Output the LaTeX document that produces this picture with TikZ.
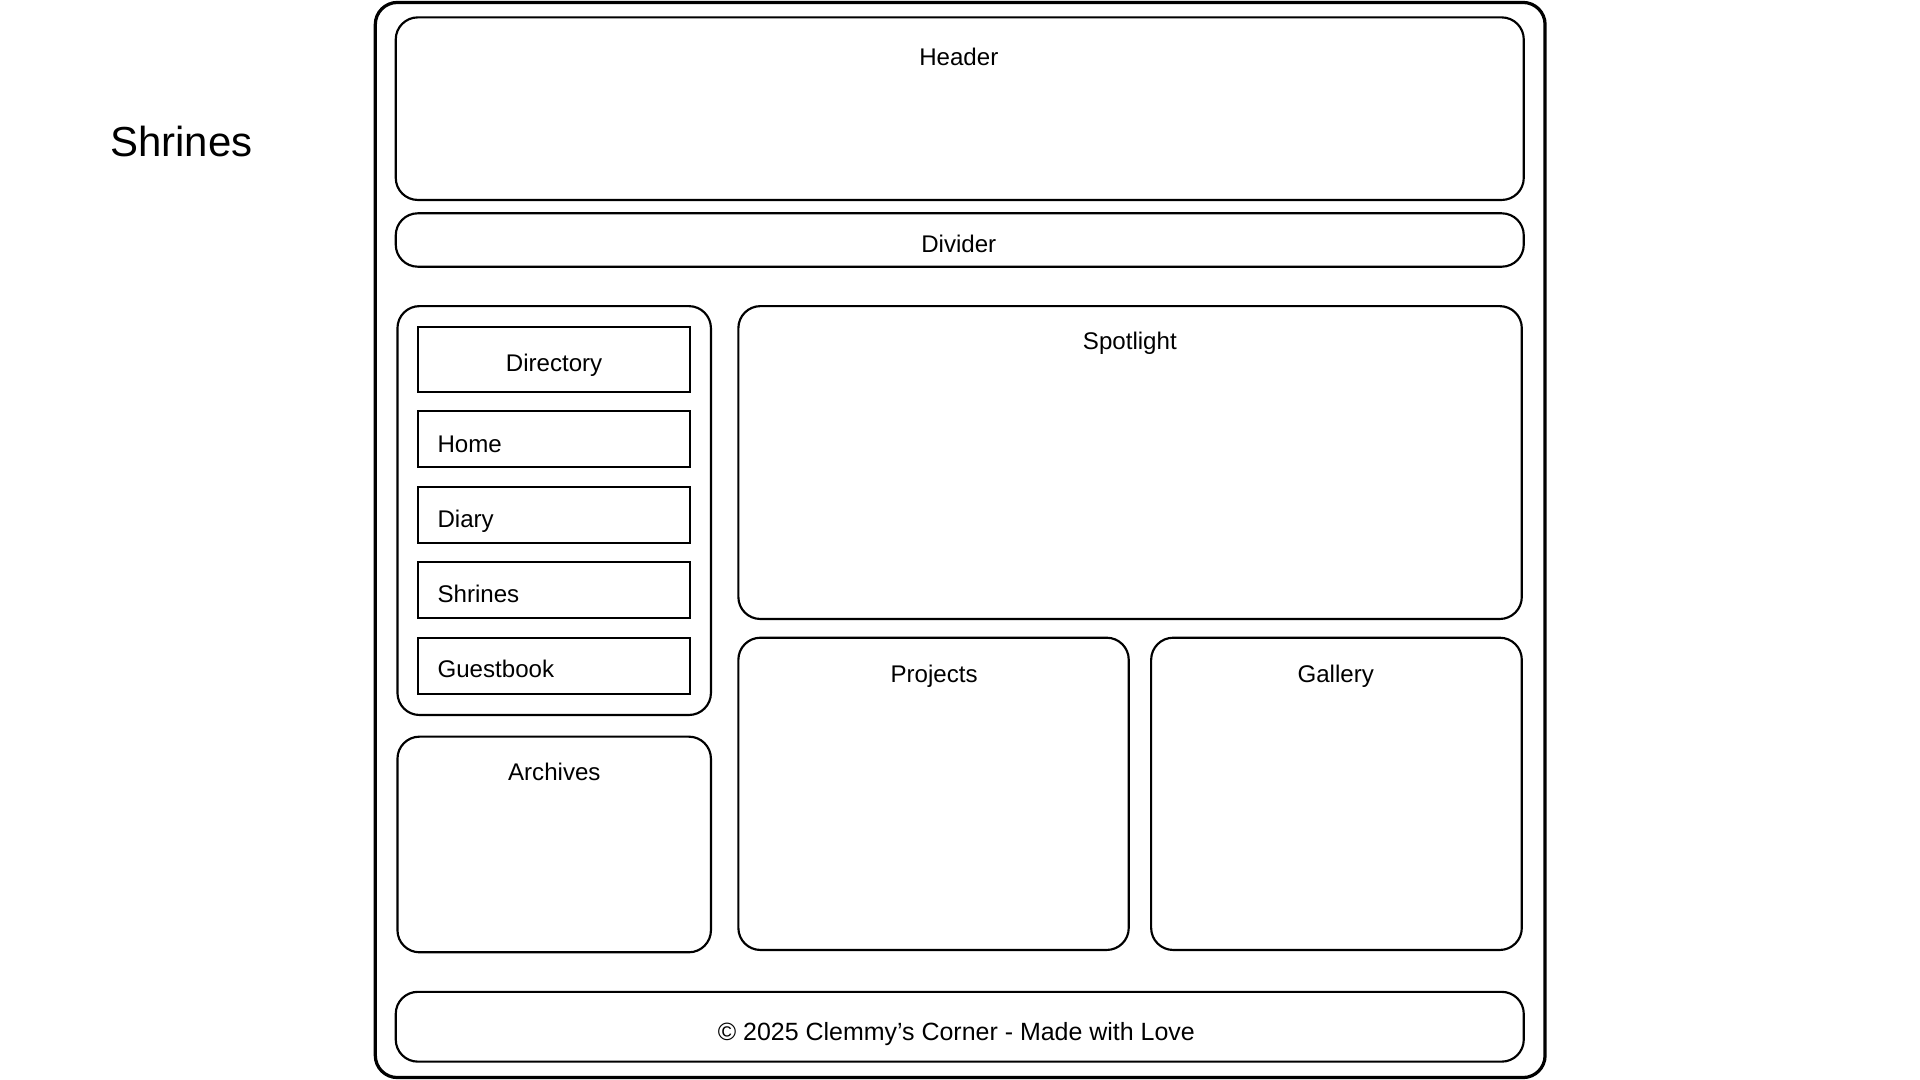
\documentclass[tikz,border=0pt]{standalone}
\usepackage{fontspec}
\setmainfont{Liberation Sans}
\begin{document}
\begin{tikzpicture}[x=0.02cm,y=-0.02cm,
  outerbox/.style={draw=black,line width=1.5pt,rounded corners=0.36cm},
  panel/.style={draw=black,line width=1pt,rounded corners=0.36cm},
  navbox/.style={draw=black,line width=1pt},
  lbl/.style={inner sep=0pt,anchor=base,font=\fontsize{11.2pt}{13pt}\selectfont},
  navlbl/.style={inner sep=0pt,anchor=base west,font=\fontsize{11.2pt}{13pt}\selectfont},
  titlelbl/.style={inner sep=0pt,anchor=base west,font=\fontsize{19.5pt}{23pt}\selectfont}]
\useasboundingbox[fill=white] (0,0) rectangle (1568,882);
% frames
\draw[outerbox] (306.5,2) rectangle (1261.8,880);
\draw[panel] (323.2,14.2) rectangle (1244.4,163.3);
\draw[panel] (323.2,174.2) rectangle (1244.4,217.8);
\draw[panel] (324.6,250) rectangle (580.6,583.9);
\draw[navbox] (341.6,266.8) rectangle (563.5,319.8);
\draw[navbox] (341.6,335.7) rectangle (563.5,381.6);
\draw[navbox] (341.6,397.4) rectangle (563.5,443.1);
\draw[navbox] (341.6,459.2) rectangle (563.5,504.9);
\draw[navbox] (341.6,520.7) rectangle (563.5,566.7);
\draw[panel] (324.6,601.6) rectangle (580.6,777.7);
\draw[panel] (603,250) rectangle (1242.8,505.5);
\draw[panel] (603,520.8) rectangle (921.8,775.8);
\draw[panel] (940.1,520.8) rectangle (1242.8,775.8);
\draw[panel] (323.2,810) rectangle (1244.4,867);
% labels
\node[titlelbl] (title) at (89.6,127.4) {Shrines};
\node[lbl] (header) at (783,53.9) {Header};
\node[lbl] (divider) at (783,206) {Divider};
\node[lbl] (directory) at (452.5,303.5) {Directory};
\node[navlbl] (home) at (357,369.4) {Home};
\node[navlbl] (diary) at (357,430.6) {Diary};
\node[navlbl] (shrines) at (357,492.2) {Shrines};
\node[navlbl] (guestbook) at (357,553) {Guestbook};
\node[lbl] (archives) at (452.7,637) {Archives};
\node[lbl] (spotlight) at (922.7,285.8) {Spotlight};
\node[lbl] (projects) at (762.8,557.2) {Projects};
\node[lbl] (gallery) at (1090.8,557.2) {Gallery};
\node[lbl,font=\fontsize{11.6pt}{13pt}\selectfont] (footer) at (781,850) {© 2025 Clemmy’s Corner - Made with Love};
\end{tikzpicture}
\end{document}
